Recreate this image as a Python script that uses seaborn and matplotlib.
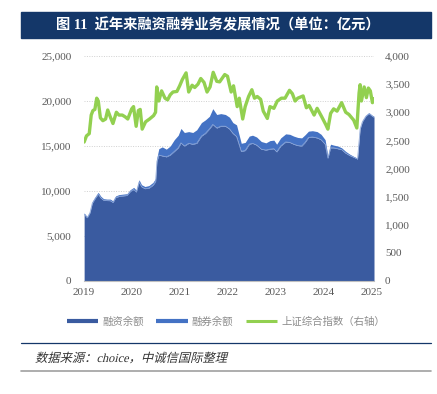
import pandas as pd
import numpy as np
import seaborn as sns
import matplotlib.pyplot as plt
import matplotlib.dates as mdates
from matplotlib.lines import Line2D
from matplotlib.patches import Rectangle, PathPatch
from matplotlib.textpath import TextPath
from matplotlib.font_manager import FontProperties
from matplotlib.transforms import Affine2D

# Margin balance data (100 million yuan)
margin_dates = [
    '2019-01-02', '2019-01-25', '2019-02-15', '2019-03-05', '2019-03-25', '2019-04-19',
    '2019-05-10', '2019-05-30', '2019-06-25', '2019-07-20', '2019-08-10', '2019-08-30',
    '2019-09-25', '2019-10-25', '2019-11-25', '2019-12-20', '2020-01-15', '2020-02-04',
    '2020-02-25', '2020-03-15', '2020-04-10', '2020-05-10', '2020-06-10', '2020-06-30',
    '2020-07-10', '2020-07-25', '2020-08-20', '2020-09-20', '2020-10-20', '2020-11-20',
    '2020-12-20', '2021-01-10', '2021-02-05', '2021-03-10', '2021-04-10', '2021-05-10',
    '2021-06-15', '2021-07-15', '2021-08-15', '2021-09-10', '2021-10-10', '2021-11-10',
    '2021-12-15', '2022-01-15', '2022-02-10', '2022-03-10', '2022-04-15', '2022-05-15',
    '2022-06-15', '2022-07-10', '2022-08-10', '2022-09-15', '2022-10-20', '2022-11-20',
    '2022-12-20', '2023-01-10', '2023-02-10', '2023-03-20', '2023-04-20', '2023-05-20',
    '2023-06-20', '2023-07-20', '2023-08-15', '2023-09-10', '2023-10-10', '2023-11-15',
    '2023-12-15', '2024-01-15', '2024-02-05', '2024-02-25', '2024-03-20', '2024-04-20',
    '2024-05-20', '2024-06-20', '2024-07-20', '2024-08-20', '2024-09-18', '2024-10-08',
    '2024-10-25', '2024-11-20', '2024-12-15', '2025-01-10', '2025-01-22',
]
financing = [
    7430, 7030, 7580, 8650, 9130, 9660,
    9220, 8980, 8940, 8930, 8730, 9260,
    9410, 9460, 9510, 9950, 10180, 9890,
    11000, 10470, 10260, 10320, 10640, 11050,
    13300, 14000, 13900, 13800, 14000, 14400,
    14800, 15350, 15000, 15300, 15200, 15300,
    16100, 16400, 16900, 17400, 17000, 17200,
    17200, 16900, 16400, 16050, 14400, 14500,
    15200, 15300, 15100, 14650, 14550, 14650,
    14700, 14350, 15000, 15450, 15400, 15200,
    15050, 15000, 15400, 15950, 16000, 15900,
    15700, 15200, 13650, 14800, 14800, 14700,
    14600, 14200, 13950, 13750, 13550, 16900,
    17700, 18300, 18600, 18300, 18200,
]
lending = [
    130, 120, 120, 150, 170, 190,
    180, 170, 160, 170, 170, 190,
    190, 190, 190, 200, 220, 210,
    250, 230, 240, 280, 310, 350,
    400, 700, 1000, 850, 1000, 1300,
    1400, 1600, 1500, 1300, 1300, 1500,
    1500, 1500, 1400, 1750, 1500, 1400,
    1300, 1300, 1200, 1300, 900, 900,
    900, 900, 900, 850, 800, 950,
    950, 850, 900, 900, 900, 900,
    900, 900, 850, 700, 700, 700,
    600, 500, 250, 400, 300, 300,
    200, 200, 150, 100, 100, 100,
    100, 100, 100, 100, 100,
]

# Shanghai Composite index (right axis)
index_dates = [
    '2019-01-02', '2019-01-20', '2019-02-10', '2019-02-25', '2019-03-10', '2019-03-25',
    '2019-04-08', '2019-04-20', '2019-05-06', '2019-05-25', '2019-06-15', '2019-07-01',
    '2019-07-20', '2019-08-10', '2019-09-05', '2019-09-25', '2019-10-20', '2019-11-10',
    '2019-12-01', '2019-12-31', '2020-01-14', '2020-02-03', '2020-02-20', '2020-03-05',
    '2020-03-20', '2020-04-15', '2020-05-15', '2020-06-15', '2020-06-30', '2020-07-09',
    '2020-07-25', '2020-08-15', '2020-09-10', '2020-09-30', '2020-10-20', '2020-11-10',
    '2020-12-10', '2020-12-31', '2021-01-20', '2021-02-18', '2021-03-10', '2021-04-05',
    '2021-04-25', '2021-05-20', '2021-06-10', '2021-07-05', '2021-07-28', '2021-08-20',
    '2021-09-13', '2021-10-10', '2021-11-01', '2021-12-10', '2021-12-31', '2022-01-28',
    '2022-02-15', '2022-03-15', '2022-03-31', '2022-04-26', '2022-05-15', '2022-06-10',
    '2022-07-05', '2022-07-25', '2022-08-15', '2022-09-10', '2022-09-30', '2022-10-31',
    '2022-11-20', '2022-12-20', '2023-01-15', '2023-02-15', '2023-03-15', '2023-04-18',
    '2023-05-10', '2023-05-31', '2023-06-20', '2023-07-31', '2023-08-25', '2023-09-15',
    '2023-10-23', '2023-11-15', '2023-12-20', '2024-01-20', '2024-02-05', '2024-02-26',
    '2024-03-20', '2024-04-15', '2024-05-20', '2024-06-20', '2024-07-15', '2024-08-20',
    '2024-09-13', '2024-09-30', '2024-10-08', '2024-10-18', '2024-11-08', '2024-11-25',
    '2024-12-10', '2024-12-25', '2025-01-10', '2025-01-20',
]
index_values = [
    2470, 2580, 2620, 2950, 3030, 3050,
    3250, 3200, 2900, 2850, 2880, 3040,
    2920, 2800, 3000, 2950, 2950, 2920,
    2880, 3060, 3100, 2750, 3030, 3050,
    2700, 2830, 2880, 2940, 3000, 3450,
    3200, 3380, 3250, 3220, 3310, 3360,
    3370, 3470, 3580, 3700, 3360, 3480,
    3440, 3500, 3600, 3530, 3360, 3450,
    3710, 3550, 3540, 3670, 3640, 3360,
    3470, 3100, 3250, 2880, 3100, 3280,
    3400, 3250, 3280, 3230, 3020, 2890,
    3100, 3070, 3200, 3250, 3250, 3390,
    3330, 3200, 3250, 3290, 3080, 3120,
    2950, 3070, 2920, 2780, 2700, 2980,
    3060, 3020, 3170, 3000, 2960, 2860,
    2720, 3340, 3490, 3200, 3450, 3260,
    3430, 3380, 3170, 3240,
]

labels = ['融资余额', '融券余额', '上证综合指数（右轴）']
title = '图 11  近年来融资融券业务发展情况（单位：亿元）'
source = '数据来源：choice，中诚信国际整理'

dark_blue = '#3A5BA0'
light_blue = '#4472C4'
green = '#92D050'
navy = '#143769'

margin = pd.DataFrame({'date': pd.to_datetime(margin_dates),
                       'financing': financing, 'lending': lending})
margin['total'] = margin['financing'] + margin['lending']
index = pd.DataFrame({'date': pd.to_datetime(index_dates), 'value': index_values})

sns.set_style('white')
plt.rcParams['font.family'] = ['Liberation Serif', 'Noto Sans CJK SC']

fig = plt.figure(figsize=(4.37, 3.94), dpi=100)
ax = fig.add_axes([84 / 437, 113 / 394, 290 / 437, 225 / 394])

ax.fill_between(margin['date'], 0, margin['financing'], color=dark_blue, lw=0, zorder=2)
ax.fill_between(margin['date'], margin['financing'], margin['total'], color=light_blue, lw=0, zorder=2)
ax.plot(margin['date'], margin['financing'], color='#8FA8D8', lw=0.5, zorder=3)

ax.set_ylim(0, 25000)
ax.set_yticks(range(0, 25001, 5000))
ax.set_yticklabels([f'{v:,}' for v in range(0, 25001, 5000)])
ax.set_xlim(pd.Timestamp('2019-01-01'), pd.Timestamp('2025-01-22'))
ax.xaxis.set_major_locator(mdates.YearLocator())
ax.xaxis.set_major_formatter(mdates.DateFormatter('%Y'))
for v in range(5000, 25001, 5000):
    ax.axhline(v, color='#D0D0D0', lw=0.7, ls=(0, (1, 1.5)), zorder=1)

for s in ['top', 'right', 'left']:
    ax.spines[s].set_visible(False)
ax.spines['bottom'].set_color('#BFBFBF')
ax.spines['bottom'].set_linewidth(0.8)
ax.tick_params(axis='x', length=3, color='#BFBFBF', labelsize=8, labelcolor='#595959', pad=2)
ax.tick_params(axis='y', length=0, labelsize=8, labelcolor='#595959', pad=9)

ax2 = ax.twinx()
sns.lineplot(data=index, x='date', y='value', ax=ax2, color=green, lw=2.4)
ax2.set_ylim(0, 4000)
ax2.set_yticks(range(0, 4001, 500))
ax2.set_yticklabels([f'{v:,}' for v in range(0, 4001, 500)])
ax2.set_xlim(pd.Timestamp('2019-01-01'), pd.Timestamp('2025-01-22'))
ax2.set_xlabel('')
ax2.set_ylabel('')
for s in ['top', 'right', 'left', 'bottom']:
    ax2.spines[s].set_visible(False)
ax2.tick_params(axis='y', length=0, labelsize=8, labelcolor='#595959', pad=8)

# title bar
fig.patches.append(Rectangle((21 / 437, 356 / 394), 410 / 437, 26 / 394,
                             transform=fig.transFigure, color=navy, zorder=0))
fig.text(56 / 437, 369 / 394, title, color='white', fontsize=10.3, va='center',
         family=['Liberation Serif', 'Noto Sans CJK SC'], fontweight='bold')

handles = [Line2D([], [], color=dark_blue, lw=3, solid_capstyle='butt'),
           Line2D([], [], color=light_blue, lw=3, solid_capstyle='butt'),
           Line2D([], [], color=green, lw=2.2, solid_capstyle='butt')]
leg = fig.legend(handles, labels, loc='center', bbox_to_anchor=(226 / 437, 72 / 394),
                 ncol=3, frameon=False, handlelength=3.0,
                 handletextpad=0.4, columnspacing=1.2,
                 prop={'family': 'Noto Sans CJK SC', 'size': 7.5})
for t in leg.get_texts():
    t.set_color('#8C8C8C')

fig.add_artist(Line2D([21 / 437, 431 / 437], [51 / 394, 51 / 394], color=navy, lw=0.9,
                      transform=fig.transFigure))
fig.add_artist(Line2D([21 / 437, 431 / 437], [23 / 394, 23 / 394], color='#A0A0A0', lw=1.2,
                      transform=fig.transFigure))

# source note, slanted like the italic original
fp = FontProperties(family=['Liberation Serif', 'Noto Sans CJK SC'])
src_path = TextPath((0, 0), source, size=12.3, prop=fp)
fig.add_artist(PathPatch(src_path, color='#333333', lw=0,
                         transform=Affine2D().skew_deg(14, 0).translate(35, 32)))

fig.savefig('out.png', dpi=100)
